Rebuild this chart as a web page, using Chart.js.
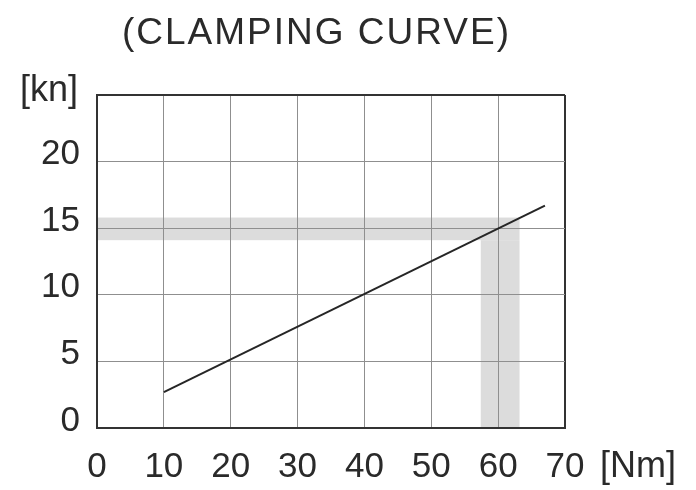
<!DOCTYPE html>
<html>
<head>
<meta charset="utf-8">
<script src="https://cdn.jsdelivr.net/npm/chart.js@4.4.1/dist/chart.umd.min.js"></script>
<style>
  body { margin: 0; background: #fff; }
  canvas { display: block; }
</style>
</head>
<body>
<canvas id="clampChart" width="696" height="490"></canvas>
<script>
// clamping curve: torque [Nm] -> clamping force [kn]
const torqueNm = [10, 67];
const forceKn = [2.7, 16.7];

const xTicks = [0, 10, 20, 30, 40, 50, 60, 70];
const yTicks = [0, 5, 10, 15, 20];

// shaded guide band (reading of ~60 Nm -> ~15 kn)
const bandTorque = [57.4, 63.2];
const bandForce = [14.1, 15.8];

const titleText = "(CLAMPING CURVE)";
const yUnit = "[kn]";
const xUnit = "[Nm]";

const FONT = "'Liberation Sans', Arial, sans-serif";
const TEXT = "#2a2a2a";

const bandPlugin = {
    id: "band",
    beforeDraw(chart) {
        const { ctx, scales: { x, y } } = chart;
        const x0 = x.getPixelForValue(0);
        const xa = x.getPixelForValue(bandTorque[0]);
        const xb = x.getPixelForValue(bandTorque[1]);
        const ya = y.getPixelForValue(bandForce[0]);
        const yb = y.getPixelForValue(bandForce[1]);
        const y0 = y.getPixelForValue(0);
        ctx.save();
        ctx.fillStyle = "#dcdcdc";
        ctx.fillRect(x0, yb, xb - x0, ya - yb);
        ctx.fillRect(xa, ya, xb - xa, y0 - ya);
        ctx.restore();
    }
};

const textPlugin = {
    id: "texts",
    afterDraw(chart) {
        const ctx = chart.ctx;
        ctx.save();
        ctx.fillStyle = TEXT;
        ctx.textBaseline = "middle";
        ctx.font = "37px " + FONT;
        ctx.letterSpacing = "2px";
        ctx.textAlign = "left";
        ctx.fillText(titleText, 122, 34);
        ctx.letterSpacing = "0px";
        ctx.font = "36px " + FONT;
        ctx.fillText(yUnit, 20, 91);
        ctx.fillText(xUnit, 600, 467);
        ctx.restore();
    }
};

const isEdge = (c, max) => c.tick && (c.tick.value === 0 || c.tick.value === max);

new Chart(document.getElementById("clampChart"), {
    type: "scatter",
    data: {
        datasets: [{
            data: torqueNm.map((t, i) => ({ x: t, y: forceKn[i] })),
            showLine: true,
            borderColor: "#262626",
            borderWidth: 2,
            pointRadius: 0,
            fill: false
        }]
    },
    options: {
        responsive: false,
        animation: false,
        layout: { padding: { left: 0, top: 95, right: 131, bottom: 0 } },
        plugins: { legend: { display: false }, tooltip: { enabled: false } },
        scales: {
            x: {
                type: "linear",
                min: 0,
                max: 70,
                afterBuildTicks: s => { s.ticks = xTicks.map(v => ({ value: v })); },
                afterFit: s => { s.height = 62; },
                grid: {
                    drawTicks: false,
                    color: c => isEdge(c, 70) ? "#333" : "#8f8f8f",
                    lineWidth: c => isEdge(c, 70) ? 2 : 1
                },
                border: { display: true, color: "#333", width: 2 },
                ticks: {
                    autoSkip: false,
                    maxRotation: 0,
                    padding: 18,
                    color: TEXT,
                    font: { family: FONT, size: 35 }
                }
            },
            y: {
                type: "linear",
                min: 0,
                max: 25,
                afterBuildTicks: s => { s.ticks = yTicks.concat([25]).map(v => ({ value: v })); },
                afterFit: s => { s.width = 97; },
                grid: {
                    drawTicks: false,
                    color: c => isEdge(c, 25) ? "#333" : "#8f8f8f",
                    lineWidth: c => isEdge(c, 25) ? 2 : 1
                },
                border: { display: true, color: "#333", width: 2 },
                ticks: {
                    padding: 17,
                    labelOffset: -7,
                    color: TEXT,
                    font: { family: FONT, size: 35 },
                    callback: v => yTicks.includes(v) ? String(v) : ""
                }
            }
        }
    },
    plugins: [bandPlugin, textPlugin]
});
</script>
</body>
</html>
